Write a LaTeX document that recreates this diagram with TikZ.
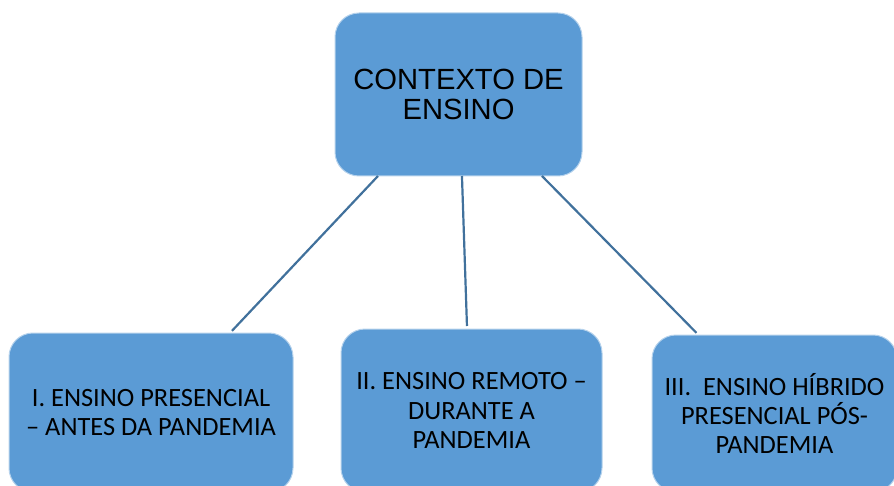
\documentclass[tikz,border=0pt]{standalone}
\usepackage{fontspec}
\setmainfont{Carlito}
\newfontfamily\headfont{Liberation Sans}
\usetikzlibrary{calc}
\tikzset{
  every picture/.append style={line width=0.6pt},
  every node/.append style={font=\fontsize{13.2}{14.7}\selectfont},
}
\tikzset{
  box/.style={fill=ensinoblue, draw=white!55!ensinoblue, line width=0.5pt, rounded corners=12pt, align=center, inner sep=0pt, outer sep=0pt},
  link/.style={draw=linkblue, line width=1.1pt, shorten >=1.5pt}
}
\begin{document}
\begin{tikzpicture}[x=0.5pt, y=-0.5pt]
% Color definitions
\definecolor{ensinoblue}{RGB}{91,155,213}
\definecolor{linkblue}{RGB}{65,113,156}

% Frame
\clip (0,0) rectangle (894,486);

% Top box
\node[box, minimum width=123.5pt, minimum height=81.5pt, font=\headfont\fontsize{14.6}{15.2}\selectfont] (contexto) at (458.5,94.5) {CONTEXTO DE\\ENSINO};

% Lower boxes
\node[box, minimum width=142pt, minimum height=79.5pt] (presencial) at (151,412.5) {I. ENSINO PRESENCIAL\\– ANTES DA PANDEMIA};
\node[box, minimum width=130.5pt, minimum height=81.5pt] (remoto) at (471.5,410.5) {II. ENSINO REMOTO –\\DURANTE A\\PANDEMIA};
\node[box, minimum width=122.5pt, minimum height=78.5pt] (hibrido) at (774.5,413.5) {III.\ \ ENSINO HÍBRIDO\\PRESENCIAL PÓS-\\PANDEMIA};

% Connectors
\draw[link] ($(contexto.south west)!0.174!(contexto.south east)$) -- ($(presencial.north west)!0.778!(presencial.north east)$);
\draw[link] ($(contexto.south west)!0.514!(contexto.south east)$) -- ($(remoto.north west)!0.483!(remoto.north east)$);
\draw[link] ($(contexto.south west)!0.838!(contexto.south east)$) -- ($(hibrido.north west)!0.19!(hibrido.north east)$);
\end{tikzpicture}
\end{document}
